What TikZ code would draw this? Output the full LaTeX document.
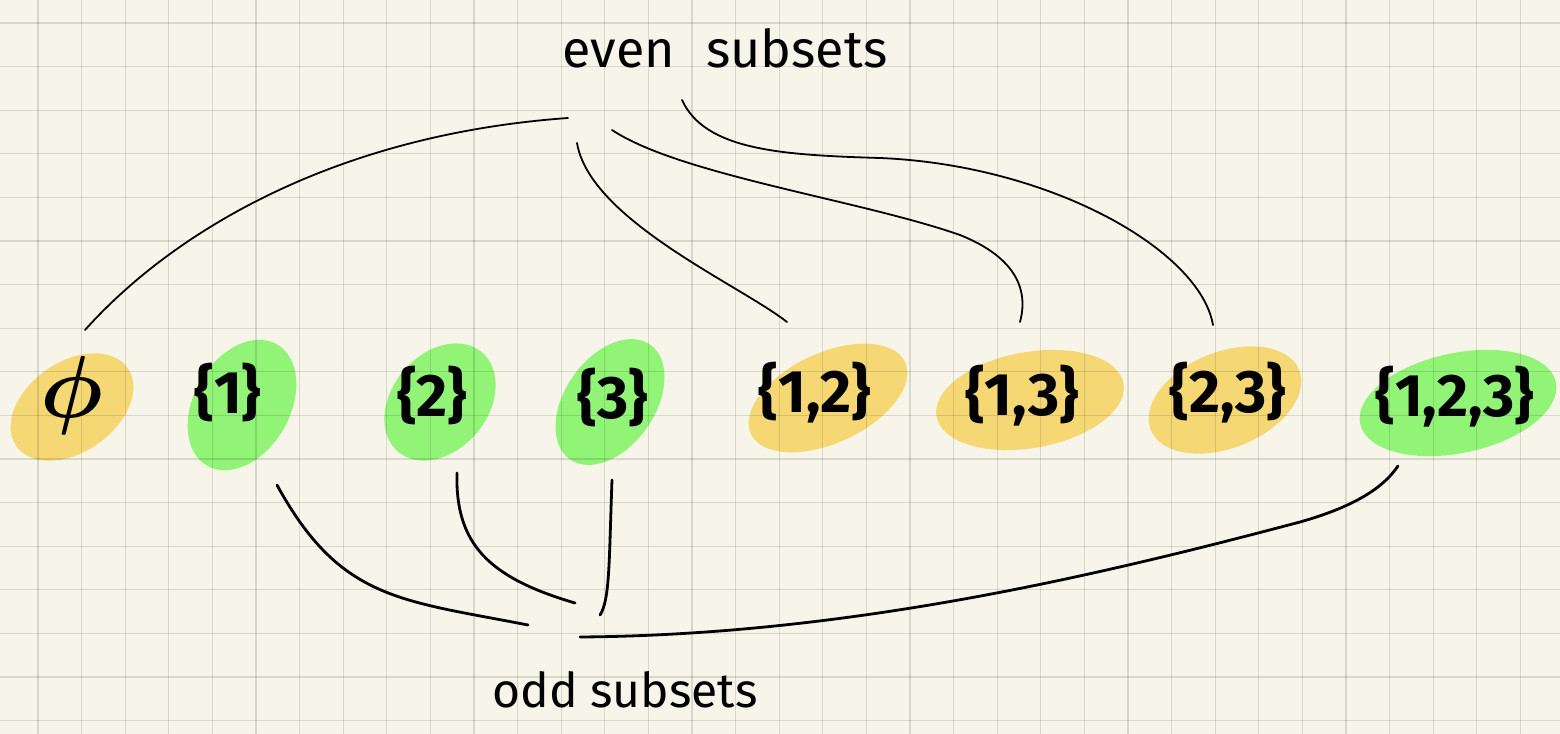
\documentclass[tikz,border=0pt]{standalone}
\usepackage{fix-cm}
\usepackage{amsmath}
\usepackage{fontspec}
\setmainfont{Fira Sans}
\usepackage{tikz}

\definecolor{paper}{HTML}{F7F5E9}
\definecolor{evenfill}{HTML}{F5D873}
\definecolor{oddfill}{HTML}{92F476}

\begin{document}
\begin{tikzpicture}[x=0.5pt, y=-0.5pt,
  subset/.style={font=\fontsize{30}{34}\selectfont\bfseries, inner sep=0pt},
  caption/.style={font=\fontsize{26}{30}\selectfont, inner sep=0pt},
  link/.style={line width=0.9pt, line cap=round},
  oddlink/.style={line width=1.4pt, line cap=round},
  gridline/.style={black, opacity=0.12, line width=0.6pt}]
  \useasboundingbox (0,0) rectangle (1560,734);
  \fill[paper] (0,0) rectangle (1560,734);

  % blobs behind the subsets
  \fill[evenfill, rotate around={35:(72,407)}] (72,407) ellipse (68 and 45);
  \fill[oddfill, rotate around={60:(242,405)}] (242,405) ellipse (70 and 48);
  \fill[oddfill, rotate around={50:(440,402)}] (440,402) ellipse (65 and 48);
  \fill[oddfill, rotate around={55:(610,402)}] (610,402) ellipse (70 and 45);
  \fill[evenfill, rotate around={25:(828,398)}] (828,398) ellipse (85 and 45);
  \fill[evenfill, rotate around={10:(1030,400)}] (1030,400) ellipse (95 and 48);
  \fill[evenfill, rotate around={22:(1225,400)}] (1225,400) ellipse (80 and 48);
  \fill[oddfill, rotate around={12:(1458,403)}] (1458,403) ellipse (100 and 50);

  % squared paper
  \foreach \i in {0,...,34}
    \draw[gridline] (38+43.6*\i,0) -- (38+43.6*\i,734);
  \foreach \j in {0,...,16}
    \draw[gridline] (0,23+43.6*\j) -- (1560,23+43.6*\j);

  \node[caption] (even) at (725,48) {even\hspace{0.6em}subsets};
  \node[caption, font=\fontsize{24}{28}\selectfont] (odd) at (625,690) {odd subsets};

  \node[subset, font=\fontsize{44}{48}\selectfont] (phi) at (72,395) {$\boldsymbol{\phi}$};
  \node[subset] (s1) at (228,392) {\{1\}};
  \node[subset] (s2) at (432,395) {\{2\}};
  \node[subset] (s3) at (613,397) {\{3\}};
  \node[subset] (s12) at (815,393) {\{1,2\}};
  \node[subset] (s13) at (1022,396) {\{1,3\}};
  \node[subset] (s23) at (1228,393) {\{2,3\}};
  \node[subset] (s123) at (1455,397) {\{1,2,3\}};

  % even side
  \draw[link] ([shift={(13,-65)}]phi.center) .. controls (170,235) and (330,135) .. ([shift={(-157,70)}]even.center);
  \draw[link] ([shift={(-148,95)}]even.center) .. controls (590,220) and (740,285) .. ([shift={(-28,-71)}]s12.center);
  \draw[link] ([shift={(-113,82)}]even.center) .. controls (680,175) and (860,200) .. (960,235)
    .. controls (1010,255) and (1030,285) .. ([shift={(-2,-74)}]s13.center);
  \draw[link] ([shift={(-43,52)}]even.center) .. controls (705,150) and (780,155) .. (880,158)
    .. controls (1050,165) and (1200,250) .. ([shift={(-15,-68)}]s23.center);

  % odd side
  \draw[oddlink] ([shift={(49,93)}]s1.center) .. controls (340,600) and (400,600) .. ([shift={(-97,-65)}]odd.center);
  \draw[oddlink] ([shift={(25,78)}]s2.center) .. controls (455,545) and (490,578) .. ([shift={(-50,-87)}]odd.center);
  \draw[oddlink] ([shift={(-1,83)}]s3.center) .. controls (609,560) and (610,600) .. ([shift={(-25,-75)}]odd.center);
  \draw[oddlink] ([shift={(-45,-53)}]odd.center) .. controls (850,635) and (1100,575) .. (1300,522)
    .. controls (1360,505) and (1385,485) .. ([shift={(-57,69)}]s123.center);
\end{tikzpicture}
\end{document}
